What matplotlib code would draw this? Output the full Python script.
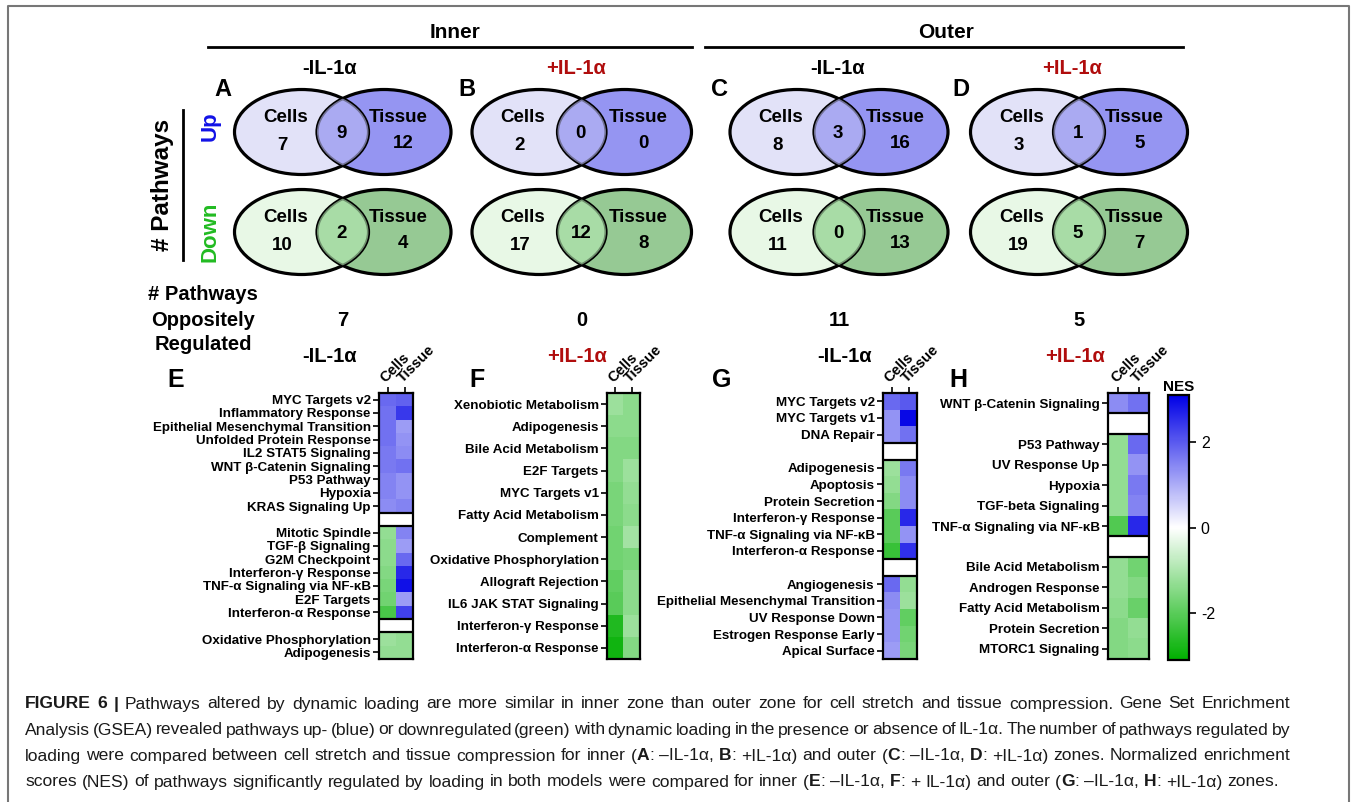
import numpy as np
import matplotlib.pyplot as plt
from matplotlib.patches import Ellipse
from matplotlib.colors import LinearSegmentedColormap, Normalize
from matplotlib.cm import ScalarMappable

plt.rcParams['font.family'] = ['Liberation Sans', 'DejaVu Sans']
plt.rcParams['axes.unicode_minus'] = False

W, H = 1356, 802

# ---- Venn counts: (cells only, both, tissue only) ----
panel_letters = ['A', 'B', 'C', 'D']
conditions = ['-IL-1α', '+IL-1α', '-IL-1α', '+IL-1α']
up_counts = [(7, 9, 12), (2, 0, 0), (8, 3, 16), (3, 1, 5)]
down_counts = [(10, 2, 4), (17, 12, 8), (11, 0, 13), (19, 5, 7)]
opposite_counts = [7, 0, 11, 5]

# ---- NES heatmaps ('' = spacer row) ----
e_labels = ['MYC Targets v2', 'Inflammatory Response', 'Epithelial Mesenchymal Transition',
            'Unfolded Protein Response', 'IL2 STAT5 Signaling', 'WNT β-Catenin Signaling',
            'P53 Pathway', 'Hypoxia', 'KRAS Signaling Up', '',
            'Mitotic Spindle', 'TGF-β Signaling', 'G2M Checkpoint', 'Interferon-γ Response',
            'TNF-α Signaling via NF-κB', 'E2F Targets', 'Interferon-α Response', '',
            'Oxidative Phosphorylation', 'Adipogenesis']
e_cells = [1.8, 1.7, 1.7, 1.7, 1.6, 1.6, 1.5, 1.5, 1.4, None,
           -1.3, -1.4, -1.4, -1.5, -1.6, -1.7, -2.2, None, -1.2, -1.3]
e_tissue = [1.9, 2.4, 1.2, 1.3, 1.4, 1.7, 1.3, 1.3, 1.5, None,
            1.5, 1.2, 1.8, 2.6, 2.9, 1.2, 2.3, None, -1.3, -1.3]

f_labels = ['Xenobiotic Metabolism', 'Adipogenesis', 'Bile Acid Metabolism', 'E2F Targets',
            'MYC Targets v1', 'Fatty Acid Metabolism', 'Complement', 'Oxidative Phosphorylation',
            'Allograft Rejection', 'IL6 JAK STAT Signaling', 'Interferon-γ Response',
            'Interferon-α Response']
f_cells = [-1.2, -1.4, -1.5, -1.5, -1.6, -1.6, -1.7, -1.7, -1.9, -2.0, -2.7, -2.9]
f_tissue = [-1.4, -1.4, -1.5, -1.2, -1.3, -1.4, -1.1, -1.6, -1.4, -1.4, -1.2, -1.5]

g_labels = ['MYC Targets v2', 'MYC Targets v1', 'DNA Repair', '',
            'Adipogenesis', 'Apoptosis', 'Protein Secretion', 'Interferon-γ Response',
            'TNF-α Signaling via NF-κB', 'Interferon-α Response', '',
            'Angiogenesis', 'Epithelial Mesenchymal Transition', 'UV Response Down',
            'Estrogen Response Early', 'Apical Surface']
g_cells = [1.8, 1.3, 1.3, None, -1.2, -1.3, -1.5, -2.0, -2.0, -2.4, None,
           1.8, 1.4, 1.3, 1.3, 1.2]
g_tissue = [2.0, 3.0, 1.7, None, 1.6, 1.4, 1.4, 2.6, 1.3, 2.5, None,
            -1.3, -1.2, -1.9, -1.7, -1.6]

h_labels = ['WNT β-Catenin Signaling', '',
            'P53 Pathway', 'UV Response Up', 'Hypoxia', 'TGF-beta Signaling',
            'TNF-α Signaling via NF-κB', '',
            'Bile Acid Metabolism', 'Androgen Response', 'Fatty Acid Metabolism',
            'Protein Secretion', 'MTORC1 Signaling']
h_cells = [1.4, None, -1.3, -1.3, -1.3, -1.3, -2.1, None, -1.3, -1.3, -1.4, -1.5, -1.5]
h_tissue = [1.7, None, 1.8, 1.3, 1.6, 1.5, 2.6, None, -1.7, -1.5, -1.8, -1.3, -1.4]

heat_letters = ['E', 'F', 'G', 'H']
heat_cols = ['Cells', 'Tissue']

caption = [
    [("FIGURE 6 |", True), (" Pathways altered by dynamic loading are more similar in inner zone than outer zone "
                            "for cell stretch and tissue compression. Gene Set Enrichment", False)],
    [("Analysis (GSEA) revealed pathways up- (blue) or downregulated (green) with dynamic loading in the "
      "presence or absence of IL-1α. The number of pathways regulated by", False)],
    [("loading were compared between cell stretch and tissue compression for inner (", False), ("A", True),
     (": –IL-1α, ", False), ("B", True), (": +IL-1α) and outer (", False), ("C", True),
     (": –IL-1α, ", False), ("D", True), (": +IL-1α) zones. Normalized enrichment", False)],
    [("scores (NES) of pathways significantly regulated by loading in both models were compared for inner (", False),
     ("E", True), (": –IL-1α, ", False), ("F", True), (": + IL-1α) and outer (", False), ("G", True),
     (": –IL-1α, ", False), ("H", True), (": +IL-1α) zones.", False)],
]

RED = '#B00D0D'
cond_colors = ['black', RED, 'black', RED]

fig = plt.figure(figsize=(W / 100, H / 100), dpi=100)
ax0 = fig.add_axes([0, 0, 1, 1])
ax0.set_xlim(0, W)
ax0.set_ylim(H, 0)
ax0.axis('off')

# outer frame
ax0.plot([8, 8, 1349, 1349], [802, 6, 6, 802], color='#777777', lw=1.5)

# zone headers
ax0.text(455, 32, 'Inner', ha='center', va='center', fontsize=15, fontweight='bold')
ax0.plot([208, 692], [47, 47], color='k', lw=2)
ax0.text(946, 32, 'Outer', ha='center', va='center', fontsize=15, fontweight='bold')
ax0.plot([705, 1183], [47, 47], color='k', lw=2)

# row labels
ax0.text(163, 185, '# Pathways', rotation=90, ha='center', va='center', fontsize=17.5, fontweight='bold')
ax0.plot([183, 183], [110, 260], color='k', lw=2)
ax0.text(210, 126, 'Up', rotation=90, ha='center', va='center', fontsize=16, fontweight='bold', color='#1212E6')
ax0.text(210, 232, 'Down', rotation=90, ha='center', va='center', fontsize=16, fontweight='bold', color='#22BB22')

left_x = [301.5, 539, 797, 1037.5]
right_x = [384, 624.5, 881, 1120.5]
ew, eh = 134, 85
up_y, down_y = 132, 232
up_cols = ('#E2E2F8', '#9595F2', '#B8B8F2')
down_cols = ('#E8F8E6', '#96C994', '#B4E9B2')


def venn(cxl, cxr, cy, counts, cols):
    light, dark, mid = cols
    lp = Ellipse((cxl, cy), ew, eh, fc=light, ec='none', zorder=1)
    ax0.add_patch(lp)
    ax0.add_patch(Ellipse((cxr, cy), ew, eh, fc=dark, ec='none', zorder=1))
    ax0.add_patch(Ellipse((cxl, cy), ew, eh, fill=False, ec='k', lw=2.3, zorder=2))
    ax0.add_patch(Ellipse((cxr, cy), ew, eh, fill=False, ec='k', lw=2.3, zorder=2))
    ov = Ellipse((cxr, cy), ew, eh, fc=mid, ec='none', alpha=0.62, zorder=3)
    ax0.add_patch(ov)
    ov.set_clip_path(lp)
    kw = dict(ha='center', va='center', fontsize=13.5, fontweight='bold', zorder=4)
    ax0.text(cxl - 16, cy - 14, 'Cells', **kw)
    ax0.text(cxl - 19, cy + 13, str(counts[0]), **kw)
    ax0.text((cxl + cxr) / 2 - 1, cy + 1, str(counts[1]), **kw)
    ax0.text(cxr + 14, cy - 14, 'Tissue', **kw)
    ax0.text(cxr + 19, cy + 12, str(counts[2]), **kw)


title_x = [330, 576, 838, 1072]
letter_x = [223, 467, 719, 961]
for i in range(4):
    venn(left_x[i], right_x[i], up_y, up_counts[i], up_cols)
    venn(left_x[i], right_x[i], down_y, down_counts[i], down_cols)
    ax0.text(title_x[i], 68, conditions[i], ha='center', va='center', fontsize=14.5,
             fontweight='bold', color=cond_colors[i])
    ax0.text(letter_x[i], 89, panel_letters[i], ha='center', va='center', fontsize=17, fontweight='bold')
    ax0.text((left_x[i] + right_x[i]) / 2, 320, str(opposite_counts[i]), ha='center', va='center',
             fontsize=14.5, fontweight='bold')

ax0.text(203, 320, '# Pathways\nOppositely\nRegulated', ha='center', va='center', fontsize=14.5,
         fontweight='bold', linespacing=1.4)

# ---- heatmaps ----
cmap = LinearSegmentedColormap.from_list('nes', ['#00B000', '#FFFFFF', '#0000E6'])
cmap.set_bad('white')
norm = Normalize(-3.1, 3.1)

heat_rects = [(379, 393, 413, 659), (607, 393, 640, 659), (883, 393, 917, 659), (1108, 393, 1149, 659)]
heat_title_x = [330, 577, 845, 1075]
heat_letter_x = [176, 477, 722, 958]
heat_data = [(e_labels, e_cells, e_tissue), (f_labels, f_cells, f_tissue),
             (g_labels, g_cells, g_tissue), (h_labels, h_cells, h_tissue)]

for k, (labels, cells, tissue) in enumerate(heat_data):
    x0, y0, x1, y1 = heat_rects[k]
    ax = fig.add_axes([x0 / W, 1 - y1 / H, (x1 - x0) / W, (y1 - y0) / H])
    data = np.array([[np.nan if c is None else c, np.nan if t is None else t]
                     for c, t in zip(cells, tissue)])
    ax.imshow(np.ma.masked_invalid(data), cmap=cmap, norm=norm, aspect='auto', interpolation='nearest')
    rows = [i for i, l in enumerate(labels) if l]
    ax.set_yticks(rows)
    ax.set_yticklabels([labels[i] for i in rows], fontsize=9.6, fontweight='bold')
    ax.xaxis.tick_top()
    ax.set_xticks([0, 1])
    ax.set_xticklabels(heat_cols, rotation=45, ha='left', va='bottom', rotation_mode='anchor',
                       fontsize=10.5, fontweight='bold')
    ax.tick_params(length=4, width=1.2, pad=2)
    for i, l in enumerate(labels):
        if not l:
            ax.axhline(i - 0.5, color='k', lw=1.6)
            ax.axhline(i + 0.5, color='k', lw=1.6)
    for s in ax.spines.values():
        s.set_linewidth(1.6)
    ax0.text(heat_title_x[k], 357, conditions[k], ha='center', va='center', fontsize=14.5,
             fontweight='bold', color=cond_colors[k])
    ax0.text(heat_letter_x[k], 380, heat_letters[k], ha='center', va='center', fontsize=18,
             fontweight='bold')

cax = fig.add_axes([1168 / W, 1 - 660 / H, 21 / W, 265 / H])
cb = fig.colorbar(ScalarMappable(norm=norm, cmap=cmap), cax=cax, ticks=[-2, 0, 2])
cb.outline.set_linewidth(1.6)
cax.tick_params(labelsize=11.5, length=5, width=1.2)
cax.set_title('NES', fontsize=11, fontweight='bold', pad=3)

# ---- caption (justified lines, last line ragged) ----
renderer = fig.canvas.get_renderer()
cap_size = 12.6
space_w = 0.278 * cap_size * 100 / 72
cap_y = [704, 730, 756, 782]
cap_left, cap_right = 25, 1290
for n, (line, y) in enumerate(zip(caption, cap_y)):
    words = [[]]
    for txt, bold in line:
        parts = txt.split(' ')
        for j, p in enumerate(parts):
            if j > 0:
                words.append([])
            if p:
                words[-1].append((p, bold))
    words = [w for w in words if w]
    placed = []
    for w in words:
        segs = []
        width = 0
        for p, bold in w:
            t = ax0.text(0, y, p, ha='left', va='center', fontsize=cap_size,
                         fontweight='bold' if bold else 'normal', color='#1a1a1a')
            wd = t.get_window_extent(renderer=renderer).width
            segs.append((t, wd))
            width += wd
        placed.append((segs, width))
    total = sum(p[1] for p in placed)
    if n < len(caption) - 1:
        gap = (cap_right - cap_left - total) / (len(placed) - 1)
    else:
        gap = space_w
    x = cap_left
    for segs, width in placed:
        for t, wd in segs:
            t.set_x(x)
            x += wd
        x += gap

fig.savefig('out.png', dpi=100)
